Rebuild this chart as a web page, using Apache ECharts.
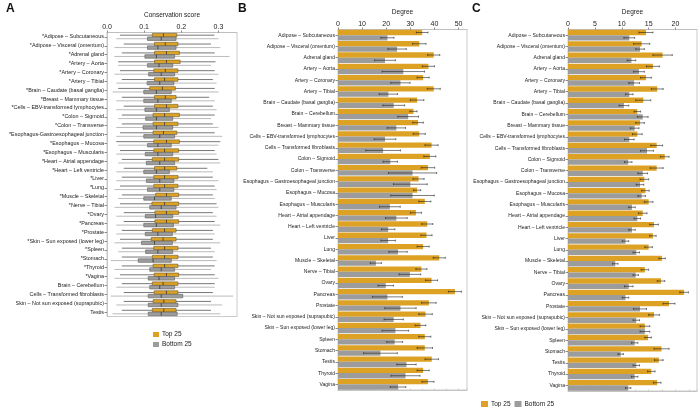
<!DOCTYPE html>
<html>
<head>
<meta charset="utf-8">
<script src="https://cdn.jsdelivr.net/npm/echarts@6/dist/echarts.min.js"></script>
<style>
  html, body { margin: 0; padding: 0; background: #fff; }
  #chart { width: 700px; height: 407px; }
</style>
</head>
<body>
<div id="chart"></div>
<script>
// ---- data ----
const tissuesA = [
  "*Adipose – Subcutaneous", "*Adipose – Visceral (omentum)", "*Adrenal gland",
  "*Artery – Aorta", "*Artery – Coronary", "*Artery – Tibial",
  "*Brain – Caudate (basal ganglia)", "*Breast – Mammary tissue",
  "*Cells – EBV-transformed lymphocytes", "*Colon – Sigmoid", "*Colon – Transverse",
  "*Esophagus-Gastroesophageal junction", "*Esophagus – Mucosa", "*Esophagus – Muscularis",
  "*Heart – Atrial appendage", "*Heart – Left ventricle", "*Liver", "*Lung",
  "*Muscle – Skeletal", "*Nerve – Tibial", "*Ovary", "*Pancreas", "*Prostate",
  "*Skin – Sun exposed (lower leg)", "*Spleen", "*Stomach", "*Thyroid", "*Vagina",
  "Brain – Cerebellum", "Cells – Transformed fibroblasts",
  "Skin – Not sun exposed (suprapubic)", "Testis"
];

// [min, q1, median, q3, max]
const topBoxA = [
  [0.035, 0.122, 0.152, 0.188, 0.289], [0.045, 0.128, 0.157, 0.191, 0.280],
  [0.040, 0.128, 0.160, 0.195, 0.290], [0.030, 0.128, 0.160, 0.197, 0.292],
  [0.035, 0.126, 0.157, 0.191, 0.290], [0.040, 0.128, 0.155, 0.191, 0.285],
  [0.030, 0.115, 0.149, 0.184, 0.290], [0.040, 0.128, 0.157, 0.186, 0.275],
  [0.045, 0.128, 0.160, 0.191, 0.285], [0.040, 0.124, 0.155, 0.195, 0.290],
  [0.040, 0.124, 0.155, 0.191, 0.285], [0.035, 0.124, 0.152, 0.188, 0.290],
  [0.025, 0.126, 0.160, 0.195, 0.305], [0.035, 0.126, 0.155, 0.193, 0.290],
  [0.040, 0.122, 0.155, 0.193, 0.300], [0.045, 0.128, 0.155, 0.188, 0.270],
  [0.040, 0.126, 0.155, 0.191, 0.285], [0.035, 0.126, 0.155, 0.191, 0.290],
  [0.040, 0.131, 0.160, 0.193, 0.285], [0.035, 0.121, 0.155, 0.193, 0.295],
  [0.045, 0.129, 0.160, 0.193, 0.285], [0.045, 0.129, 0.160, 0.193, 0.290],
  [0.040, 0.122, 0.155, 0.186, 0.285], [0.035, 0.119, 0.151, 0.186, 0.285],
  [0.040, 0.126, 0.155, 0.191, 0.280], [0.040, 0.122, 0.155, 0.191, 0.285],
  [0.040, 0.124, 0.155, 0.191, 0.290], [0.035, 0.127, 0.160, 0.193, 0.290],
  [0.040, 0.122, 0.151, 0.191, 0.290], [0.045, 0.127, 0.160, 0.191, 0.285],
  [0.045, 0.124, 0.153, 0.186, 0.280], [0.040, 0.122, 0.153, 0.186, 0.280]
];
const bottomBoxA = [
  [0.025, 0.109, 0.146, 0.186, 0.300], [0.020, 0.109, 0.137, 0.186, 0.305],
  [0.020, 0.102, 0.133, 0.182, 0.330], [0.030, 0.109, 0.140, 0.177, 0.280],
  [0.020, 0.112, 0.146, 0.182, 0.300], [0.025, 0.108, 0.142, 0.180, 0.295],
  [0.015, 0.099, 0.133, 0.173, 0.300], [0.025, 0.099, 0.137, 0.173, 0.290],
  [0.025, 0.102, 0.133, 0.168, 0.295], [0.030, 0.104, 0.133, 0.177, 0.280],
  [0.025, 0.097, 0.133, 0.177, 0.300], [0.025, 0.099, 0.142, 0.182, 0.310],
  [0.030, 0.109, 0.137, 0.173, 0.300], [0.025, 0.103, 0.137, 0.177, 0.295],
  [0.030, 0.106, 0.142, 0.182, 0.305], [0.025, 0.099, 0.133, 0.168, 0.285],
  [0.025, 0.106, 0.142, 0.180, 0.300], [0.020, 0.109, 0.142, 0.180, 0.295],
  [0.030, 0.099, 0.128, 0.173, 0.290], [0.020, 0.115, 0.146, 0.186, 0.300],
  [0.025, 0.103, 0.131, 0.177, 0.295], [0.025, 0.099, 0.133, 0.179, 0.305],
  [0.025, 0.103, 0.137, 0.176, 0.290], [0.020, 0.093, 0.128, 0.176, 0.305],
  [0.030, 0.104, 0.137, 0.177, 0.290], [0.010, 0.084, 0.124, 0.173, 0.295],
  [0.020, 0.115, 0.146, 0.182, 0.280], [0.020, 0.111, 0.140, 0.182, 0.300],
  [0.025, 0.115, 0.142, 0.182, 0.290], [0.010, 0.111, 0.146, 0.204, 0.340],
  [0.025, 0.111, 0.146, 0.191, 0.310], [0.015, 0.111, 0.146, 0.189, 0.305]
];

const tissuesBC = [
  "Adipose – Subcutaneous", "Adipose – Visceral (omentum)", "Adrenal gland",
  "Artery – Aorta", "Artery – Coronary", "Artery – Tibial",
  "Brain – Caudate (basal ganglia)", "Brain – Cerebellum", "Breast – Mammary tissue",
  "Cells – EBV-transformed lymphocytes", "Cells – Transformed fibroblasts",
  "Colon – Sigmoid", "Colon – Transverse", "Esophagus – Gastroesophageal junction",
  "Esophagus – Mucosa", "Esophagus – Muscularis", "Heart – Atrial appendage",
  "Heart – Left ventricle", "Liver", "Lung", "Muscle – Skeletal", "Nerve – Tibial",
  "Ovary", "Pancreas", "Prostate", "Skin – Not sun exposed (suprapubic)",
  "Skin – Sun exposed (lower leg)", "Spleen", "Stomach", "Testis", "Thyroid", "Vagina"
];

const topDegreeB = [34.9, 33.7, 39.7, 37.5, 35.3, 39.7, 32.8, 31.3, 33.2, 33.7, 38.8,
  38.1, 37.3, 33.4, 32.8, 36.0, 32.3, 37.0, 36.7, 35.3, 42.0, 34.6, 38.8, 48.5,
  37.7, 36.3, 34.2, 36.0, 36.0, 38.9, 35.3, 37.3];
const topErrB = [2.4, 2.8, 2.5, 2.5, 2.5, 2.7, 2.8, 1.5, 2.2, 2.5, 2.7,
  2.5, 2.8, 2.3, 1.5, 2.5, 2.3, 2.3, 2.3, 2.5, 2.5, 2.3, 2.5, 2.7,
  3.0, 2.8, 2.2, 2.5, 3.2, 2.8, 2.5, 2.5];
const bottomDegreeB = [20.5, 24.5, 19.5, 27.1, 25.9, 20.9, 23.1, 29.1, 24.2, 19.5, 18.7,
  21.7, 30.9, 30.0, 30.9, 21.5, 24.2, 20.8, 20.8, 24.9, 15.7, 29.8, 19.8, 20.5,
  25.9, 23.1, 23.8, 23.5, 17.6, 28.4, 28.0, 24.9];
const bottomErrB = [2.7, 3.8, 4.3, 8.8, 4.0, 3.8, 4.5, 4.3, 3.8, 4.5, 7.2,
  3.0, 10.0, 7.0, 9.0, 4.3, 4.5, 2.8, 3.0, 3.8, 2.3, 4.5, 3.2, 6.2,
  6.5, 4.0, 5.5, 3.3, 7.0, 4.0, 6.0, 3.2];

const topDegreeC = [14.5, 13.7, 17.6, 15.8, 14.5, 16.6, 14.0, 12.9, 13.4, 12.9, 16.5,
  18.0, 16.5, 14.2, 14.4, 15.0, 13.9, 16.0, 15.8, 15.0, 17.5, 14.3, 17.3, 21.6,
  18.8, 16.0, 14.3, 14.9, 17.4, 16.9, 15.5, 16.6];
const topErrC = [1.3, 1.5, 1.8, 1.2, 1.0, 1.1, 1.4, 0.6, 0.8, 0.9, 1.1,
  0.8, 1.2, 0.8, 0.7, 0.8, 0.8, 0.8, 0.6, 0.7, 0.6, 0.7, 0.7, 0.8,
  1.1, 1.0, 0.9, 0.6, 1.4, 0.8, 0.7, 0.7];
const bottomDegreeC = [11.4, 13.4, 11.8, 13.2, 12.3, 11.4, 10.4, 13.9, 12.4, 11.4, 14.7,
  11.2, 13.9, 13.4, 13.7, 11.9, 12.9, 11.9, 10.7, 12.7, 8.8, 12.6, 11.3, 10.7,
  13.4, 12.7, 14.3, 12.4, 9.8, 12.7, 12.4, 11.2];
const bottomErrC = [1.0, 0.8, 0.8, 1.0, 1.0, 0.7, 0.9, 1.0, 0.8, 0.9, 1.2,
  0.7, 0.9, 0.7, 0.7, 0.6, 0.6, 0.6, 0.6, 0.6, 0.5, 0.5, 0.8, 0.6,
  1.2, 0.6, 0.9, 0.6, 0.5, 0.6, 0.6, 0.5];

// ---- styling ----
const ORANGE = "#DDA124";
const GREY = "#9C9C9C";
const FONT = "'Liberation Sans', Arial, sans-serif";
const frameColor = "#bdbdbd";

const chart = echarts.init(document.getElementById("chart"), null, { renderer: "canvas" });

// horizontal box (no whisker caps, ggplot style)
function boxRender(offsetSign, fill, stroke, whisker) {
  return function (params, api) {
    const idx = api.value(0);
    const band = api.size([0, 1])[1];
    const h = band * 0.4;
    const off = offsetSign * band * 0.2;
    const pMin = api.coord([api.value(1), idx]);
    const pQ1 = api.coord([api.value(2), idx]);
    const pMed = api.coord([api.value(3), idx]);
    const pQ3 = api.coord([api.value(4), idx]);
    const pMax = api.coord([api.value(5), idx]);
    const y = pMin[1] + off;
    return {
      type: "group",
      children: [
        { type: "line", shape: { x1: pMin[0], y1: y, x2: pMax[0], y2: y },
          style: { stroke: whisker, lineWidth: 0.8 } },
        { type: "rect", shape: { x: pQ1[0], y: y - h / 2, width: pQ3[0] - pQ1[0], height: h },
          style: { fill: fill, stroke: stroke, lineWidth: 0.6 } },
        { type: "line", shape: { x1: pMed[0], y1: y - h / 2, x2: pMed[0], y2: y + h / 2 },
          style: { stroke: "#333", lineWidth: 0.8 } }
      ]
    };
  };
}

function errRender(offsetSign) {
  return function (params, api) {
    const idx = api.value(0);
    const v = api.value(1);
    const e = api.value(2);
    const band = api.size([0, 1])[1];
    const off = offsetSign * band * 0.235;
    const p1 = api.coord([v - e, idx]);
    const p2 = api.coord([v + e, idx]);
    const y = p1[1] + off;
    const c = 1;
    return {
      type: "group",
      children: [
        { type: "line", shape: { x1: p1[0], y1: y, x2: p2[0], y2: y }, style: { stroke: "#222", lineWidth: 0.6 } },
        { type: "line", shape: { x1: p1[0], y1: y - c, x2: p1[0], y2: y + c }, style: { stroke: "#222", lineWidth: 0.6 } },
        { type: "line", shape: { x1: p2[0], y1: y - c, x2: p2[0], y2: y + c }, style: { stroke: "#222", lineWidth: 0.6 } }
      ]
    };
  };
}

const boxData = (arr) => arr.map((d, i) => [i].concat(d));
const errData = (vals, errs) => vals.map((v, i) => [i, v, errs[i]]);

function catAxis(gridIndex, data, fontSize) {
  return {
    type: "category", gridIndex: gridIndex, data: data, inverse: true,
    axisLine: { show: true, lineStyle: { color: frameColor, width: 0.8 } },
    axisTick: { show: true, length: 2.5, alignWithLabel: true, lineStyle: { color: "#444", width: 0.6 } },
    axisLabel: { fontSize: fontSize, color: "#222", fontFamily: FONT, margin: 3, interval: 0 },
    splitLine: { show: false }
  };
}
function topValAxis(gridIndex, max, interval, name, nameGap, fmt) {
  return {
    type: "value", gridIndex: gridIndex, position: "top", min: 0, max: max, interval: interval,
    name: name, nameLocation: "middle", nameGap: nameGap,
    nameTextStyle: { fontSize: 6.5, color: "#222", fontFamily: FONT },
    axisLine: { show: true, lineStyle: { color: frameColor, width: 0.8 } },
    axisTick: { show: true, length: 2, lineStyle: { color: "#444", width: 0.6 } },
    axisLabel: { fontSize: 7, color: "#222", fontFamily: FONT, margin: 2,
      formatter: fmt || null, showMaxLabel: false },
    splitLine: { show: false }
  };
}
function bottomValAxis(gridIndex, max, interval) {
  return {
    type: "value", gridIndex: gridIndex, position: "bottom", min: 0, max: max, interval: interval,
    axisLine: { show: true, lineStyle: { color: frameColor, width: 0.8 } },
    axisTick: { show: true, inside: true, length: 1.5, lineStyle: { color: frameColor, width: 0.6 } },
    axisLabel: { show: false },
    splitLine: { show: false }
  };
}

const option = {
  animation: false,
  textStyle: { fontFamily: FONT },
  graphic: [
    { type: "text", left: 6, top: 3, style: { text: "A", font: "bold 12px 'Liberation Sans', Arial", fill: "#111" } },
    { type: "text", left: 238, top: 3, style: { text: "B", font: "bold 12px 'Liberation Sans', Arial", fill: "#111" } },
    { type: "text", left: 472, top: 3, style: { text: "C", font: "bold 12px 'Liberation Sans', Arial", fill: "#111" } }
  ],
  legend: [
    { orient: "vertical", left: 148, top: 326, itemWidth: 6, itemHeight: 5, itemGap: 3,
      icon: "rect", data: ["Top 25", "Bottom 25"],
      textStyle: { fontSize: 6.5, color: "#222", fontFamily: FONT, padding: [0, 0, 0, -2] } },
    { orient: "horizontal", left: 476, top: 396, itemWidth: 7, itemHeight: 7, itemGap: 4,
      icon: "rect", data: ["Top 25", "Bottom 25"],
      textStyle: { fontSize: 6.5, color: "#222", fontFamily: FONT, padding: [0, 0, 0, -2] } }
  ],
  grid: [
    { left: 107, top: 32.5, width: 130, height: 284, show: true, borderColor: frameColor, borderWidth: 0.8 },
    { left: 338, top: 29.5, width: 129, height: 360.5, show: true, borderColor: frameColor, borderWidth: 0.8 },
    { left: 568, top: 29.5, width: 129, height: 361.5, show: true, borderColor: frameColor, borderWidth: 0.8 }
  ],
  xAxis: [
    topValAxis(0, 0.35, 0.1, "Conservation score", 12, (v) => v.toFixed(1)),
    topValAxis(1, 53.5, 10, "Degree", 10),
    topValAxis(2, 24, 5, "Degree", 10),
    bottomValAxis(1, 53.5, 5),
    bottomValAxis(2, 24, 2.5)
  ],
  yAxis: [
    catAxis(0, tissuesA, 5.4),
    catAxis(1, tissuesBC, 5.1),
    catAxis(2, tissuesBC, 5.1)
  ],
  series: [
    { name: "Top 25", type: "custom", xAxisIndex: 0, yAxisIndex: 0, itemStyle: { color: ORANGE },
      renderItem: boxRender(-1, ORANGE, "#6b5a2e", "#555"),
      encode: { x: [1, 2, 3, 4, 5], y: 0 }, data: boxData(topBoxA) },
    { name: "Bottom 25", type: "custom", xAxisIndex: 0, yAxisIndex: 0, itemStyle: { color: GREY },
      renderItem: boxRender(1, GREY, "#5e5e5e", "#aaa"),
      encode: { x: [1, 2, 3, 4, 5], y: 0 }, data: boxData(bottomBoxA) },

    { name: "Top 25", type: "bar", xAxisIndex: 1, yAxisIndex: 1, data: topDegreeB,
      itemStyle: { color: ORANGE }, barGap: "0%", barCategoryGap: "6%" },
    { name: "Bottom 25", type: "bar", xAxisIndex: 1, yAxisIndex: 1, data: bottomDegreeB,
      itemStyle: { color: GREY }, barGap: "0%", barCategoryGap: "6%" },
    { name: "Top 25", type: "custom", xAxisIndex: 1, yAxisIndex: 1, renderItem: errRender(-1),
      encode: { x: 1, y: 0 }, data: errData(topDegreeB, topErrB), z: 5, itemStyle: { color: ORANGE } },
    { name: "Bottom 25", type: "custom", xAxisIndex: 1, yAxisIndex: 1, renderItem: errRender(1),
      encode: { x: 1, y: 0 }, data: errData(bottomDegreeB, bottomErrB), z: 5, itemStyle: { color: GREY } },

    { name: "Top 25", type: "bar", xAxisIndex: 2, yAxisIndex: 2, data: topDegreeC,
      itemStyle: { color: ORANGE }, barGap: "0%", barCategoryGap: "6%" },
    { name: "Bottom 25", type: "bar", xAxisIndex: 2, yAxisIndex: 2, data: bottomDegreeC,
      itemStyle: { color: GREY }, barGap: "0%", barCategoryGap: "6%" },
    { name: "Top 25", type: "custom", xAxisIndex: 2, yAxisIndex: 2, renderItem: errRender(-1),
      encode: { x: 1, y: 0 }, data: errData(topDegreeC, topErrC), z: 5, itemStyle: { color: ORANGE } },
    { name: "Bottom 25", type: "custom", xAxisIndex: 2, yAxisIndex: 2, renderItem: errRender(1),
      encode: { x: 1, y: 0 }, data: errData(bottomDegreeC, bottomErrC), z: 5, itemStyle: { color: GREY } }
  ]
};

chart.setOption(option);
</script>
</body>
</html>
